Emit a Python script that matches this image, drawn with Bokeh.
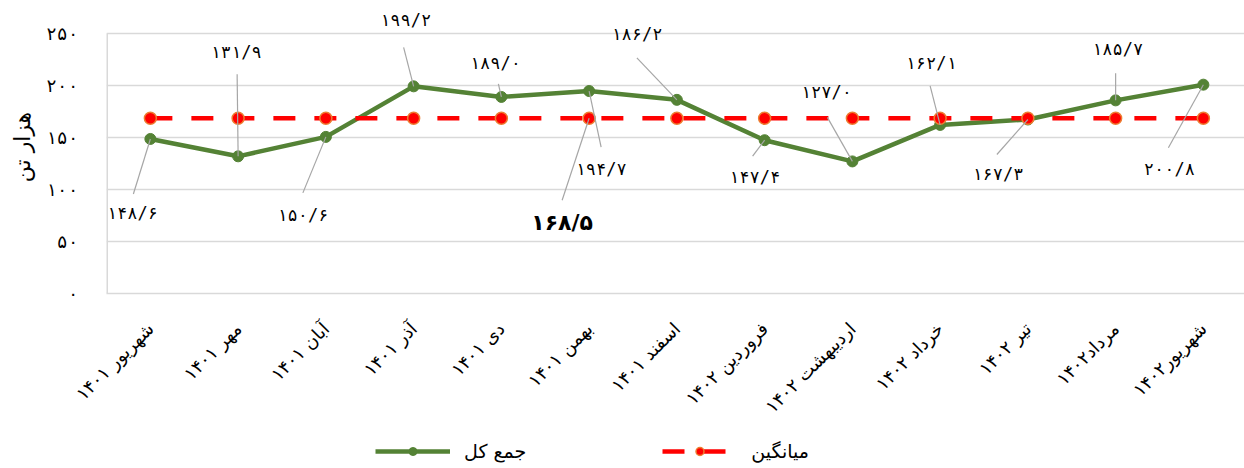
import math
from bokeh.plotting import figure
from bokeh.layouts import column
from bokeh.models import (ColumnDataSource, FixedTicker, Legend, LegendItem,
                          LabelSet, Label, Range1d)
from bokeh.core.properties import value
from bokeh.embed import file_html
from bokeh.resources import INLINE

# ---------------- data ----------------
months = ["شهریور ۱۴۰۱", "مهر ۱۴۰۱", "آبان ۱۴۰۱", "آذر ۱۴۰۱", "دی ۱۴۰۱",
          "بهمن ۱۴۰۱", "اسفند ۱۴۰۱", "فروردین ۱۴۰۲", "اردیبهشت ۱۴۰۲",
          "خرداد ۱۴۰۲", "تیر ۱۴۰۲", "مرداد۱۴۰۲", "شهریور۱۴۰۲"]
totals = [148.6, 131.9, 150.6, 199.2, 189.0, 194.7, 186.2,
          147.4, 127.0, 162.1, 167.3, 185.7, 200.8]
average = [168.5, 168.5, 168.5, 168.5, 168.5, 168.5, 168.5,
           168.5, 168.5, 168.5, 168.5, 168.5, 168.5]
y_ticks = [0, 50, 100, 150, 200, 250]
series_names = ["جمع کل", "میانگین"]
y_title = "هزار تن"

# label placement (screen px, +dx right, +dy down) - styling only
label_dx = [-18, -2, -23, -8, -6, 12, -40, -10, -26, -9, -30, 2, -34]
label_dy = [74, -104, 78, -66, -34, 78, -66, 37, -69, -62, 54, -51, 84]
lead_dx = [-17, -1, -23, -10, -3, 12, -40, -12, -25, -10, -31, 0, -35]
lead_dy = [55, -82, 56, -39, -13, 56, -42, 16, -44, -39, 35, -27, 63]
avg_label_idx = 5
avg_label_off = (-27, 104)
avg_lead_off = (-27, 82)

# ---------------- layout ----------------
W = 1244
H_MAIN, H_LEG = 433, 35
BL, BB, BR = 106, 140, 0
TOP_PAD = 33              # px above the 250 gridline kept inside the frame
FW = W - BL - BR
FH = H_MAIN - BB
STEP = 87.75
x_start = -0.5
x_end = x_start + FW / STEP
PY = (FH - TOP_PAD) / 250.0
PX = STEP
y_end = 250 + TOP_PAD / PY

FONT = "DejaVu Sans"
NUM_FONT = "DejaVu Sans Mono"
GREEN = "#548235"
RED = "#FF0000"
ORANGE = "#ED7D31"
GRID = "#D9D9D9"
LEAD = "#A6A6A6"

FA = str.maketrans("0123456789", "۰۱۲۳۴۵۶۷۸۹")


def fa(s):
    return str(s).translate(FA)


def fa_num(v):
    return fa(f"{v:.1f}".replace(".", "/"))


xs = list(range(len(months)))

p = figure(width=W, height=H_MAIN, output_backend="svg", toolbar_location=None,
           x_range=Range1d(x_start, x_end), y_range=Range1d(0, y_end),
           min_border_left=BL, min_border_right=BR,
           min_border_top=0, min_border_bottom=BB)
p.background_fill_color = "white"
p.border_fill_color = "white"
p.outline_line_color = None

p.xgrid.grid_line_color = None
p.ygrid.grid_line_color = GRID
p.ygrid.grid_line_width = 1.5
p.ygrid.ticker = FixedTicker(ticks=y_ticks)

p.yaxis.ticker = FixedTicker(ticks=y_ticks)
p.yaxis.major_label_overrides = {t: fa(t) for t in y_ticks}
p.yaxis.axis_line_color = None
p.yaxis.major_tick_line_color = None
p.yaxis.minor_tick_line_color = None
p.yaxis.major_tick_in = 0
p.yaxis.major_tick_out = 0
p.yaxis.major_label_standoff = 28
p.yaxis.major_label_text_font = NUM_FONT
p.yaxis.major_label_text_font_size = "18px"
p.yaxis.major_label_text_color = "black"
p.yaxis.axis_label = y_title
p.yaxis.axis_label_text_font = FONT
p.yaxis.axis_label_text_font_size = "22px"
p.yaxis.axis_label_text_font_style = "normal"
p.yaxis.axis_label_text_color = "black"
p.yaxis.axis_label_standoff = 8

p.xaxis.ticker = FixedTicker(ticks=xs)
p.xaxis.major_label_overrides = {i: m for i, m in enumerate(months)}
p.xaxis.major_label_orientation = math.pi / 4
p.xaxis.axis_line_color = GRID
p.xaxis.axis_line_width = 1.5
p.xaxis.major_tick_line_color = None
p.xaxis.minor_tick_line_color = None
p.xaxis.major_label_standoff = 26
p.xaxis.major_label_text_font = FONT
p.xaxis.major_label_text_font_size = "18px"
p.xaxis.major_label_text_color = "black"

# left border of the plot area (from 0 up to the top gridline)
p.segment([x_start], [0], [x_start], [250], line_color=GRID, line_width=3)

# series
src = ColumnDataSource(dict(x=xs, total=totals, avg=average))
p.line("x", "total", source=src, line_color=GREEN, line_width=4.5)
p.scatter("x", "total", source=src, size=11, fill_color=GREEN,
          line_color=GREEN)
p.line("x", "avg", source=src, line_color=RED, line_width=4.5,
       line_dash="22 19")
p.scatter("x", "avg", source=src, size=12, fill_color=RED,
          line_color=ORANGE, line_width=1.5)

# leader lines
lx0 = xs + [avg_label_idx]
ly0 = totals + [average[avg_label_idx]]
ldx = lead_dx + [avg_lead_off[0]]
ldy = lead_dy + [avg_lead_off[1]]
lx1 = [a + d / PX for a, d in zip(lx0, ldx)]
ly1 = [b - d / PY for b, d in zip(ly0, ldy)]
p.segment(lx0, ly0, lx1, ly1, line_color=LEAD, line_width=1.2)

# data labels
lbl_src = ColumnDataSource(dict(
    x=xs, y=totals, text=[fa_num(v) for v in totals],
    xo=label_dx, yo=[-d for d in label_dy]))
p.add_layout(LabelSet(source=lbl_src, x="x", y="y", text="text",
                      x_offset="xo", y_offset="yo", text_align="center",
                      text_baseline="middle", text_font=value(NUM_FONT),
                      text_font_size="17px", text_color="black"))
p.add_layout(Label(x=avg_label_idx, y=average[avg_label_idx],
                   text=fa_num(average[avg_label_idx]),
                   x_offset=avg_label_off[0], y_offset=-avg_label_off[1],
                   text_align="center", text_baseline="middle",
                   text_font=FONT, text_font_size="22px",
                   text_font_style="bold", text_color="black"))

# ---------------- legend strip ----------------
q = figure(width=W, height=H_LEG, output_backend="svg", toolbar_location=None,
           x_range=Range1d(0, 1), y_range=Range1d(0, 1),
           x_axis_type=None, y_axis_type=None,
           min_border=0, min_border_left=0, min_border_right=0,
           min_border_top=0, min_border_bottom=0)
q.grid.visible = False
q.outline_line_color = None
q.background_fill_color = "white"
q.border_fill_color = "white"
off = [-5, -4]
lg1 = q.line(off, off, line_color=GREEN, line_width=4.5)
lg2 = q.scatter(off, off, size=12, fill_color=GREEN, line_color=GREEN)
lr1 = q.line(off, off, line_color=RED, line_width=4.5, line_dash="22 19")
lr2 = q.scatter(off, off, size=12, fill_color=RED, line_color=ORANGE,
                line_width=1.5)
legend = Legend(items=[LegendItem(label=series_names[0], renderers=[lg1, lg2]),
                       LegendItem(label=series_names[1], renderers=[lr1, lr2])],
                orientation="horizontal", location=(269, 6),
                glyph_width=75, glyph_height=20, label_standoff=14,
                spacing=136, padding=0, margin=0,
                border_line_color=None, background_fill_alpha=0,
                label_text_font=FONT, label_text_font_size="19px",
                label_text_color="black")
q.add_layout(legend, "center")

layout = column(p, q, spacing=0)
open("out.html", "w").write(file_html(layout, INLINE))
